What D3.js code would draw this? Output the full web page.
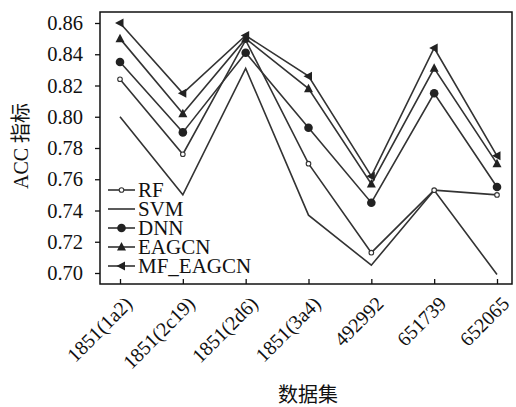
<!DOCTYPE html>
<html>
<head>
<meta charset="utf-8">
<script src="https://cdn.jsdelivr.net/npm/d3@7"></script>
<style>
  body { margin: 0; background: #fff; }
  text { font-family: "Liberation Serif", "Noto Sans CJK SC", serif; fill: #111; }
</style>
</head>
<body>
<div id="chart"></div>
<script>
// Data
const datasets = ["1851(1a2)", "1851(2c19)", "1851(2d6)", "1851(3a4)", "492992", "651739", "652065"];
const rfValues = [0.824, 0.776, 0.849, 0.770, 0.713, 0.753, 0.750];
const svmValues = [0.800, 0.750, 0.831, 0.737, 0.705, 0.753, 0.699];
const dnnValues = [0.835, 0.790, 0.841, 0.793, 0.745, 0.815, 0.755];
const eagcnValues = [0.850, 0.802, 0.850, 0.818, 0.757, 0.831, 0.770];
const mfEagcnValues = [0.860, 0.815, 0.852, 0.826, 0.762, 0.844, 0.775];
const yTicks = [0.70, 0.72, 0.74, 0.76, 0.78, 0.80, 0.82, 0.84, 0.86];

const series = [
    { name: "RF", values: rfValues, marker: "open" },
    { name: "SVM", values: svmValues, marker: "none" },
    { name: "DNN", values: dnnValues, marker: "circle" },
    { name: "EAGCN", values: eagcnValues, marker: "up" },
    { name: "MF_EAGCN", values: mfEagcnValues, marker: "left" }
];

const width = 516, height = 407;
const frame = { left: 100, top: 12, right: 512, bottom: 284 };
const lineColor = "#333";

const svg = d3.select("#chart").append("svg")
    .attr("width", width)
    .attr("height", height);

// Scales
const xScale = d3.scalePoint()
    .domain(datasets)
    .range([120, 497]);

const yScale = d3.scaleLinear()
    .domain([0.70, 0.86])
    .range([273, 23]);

// Plot frame
svg.append("rect")
    .attr("x", frame.left)
    .attr("y", frame.top)
    .attr("width", frame.right - frame.left)
    .attr("height", frame.bottom - frame.top)
    .attr("fill", "none")
    .attr("stroke", "#111")
    .attr("stroke-width", 1.5);

// Y axis (ticks point outward)
const yAxis = svg.append("g")
    .attr("transform", `translate(${frame.left},0)`)
    .call(d3.axisLeft(yScale).tickValues(yTicks).tickFormat(d3.format(".2f")).tickSize(5).tickPadding(12));
yAxis.select(".domain").remove();
yAxis.selectAll("line").attr("stroke", "#111").attr("stroke-width", 1.3);
yAxis.selectAll("text")
    .attr("font-family", "Liberation Serif")
    .attr("font-size", 20.5)
    .attr("fill", "#111");

// X axis (ticks point inward)
const xAxis = svg.append("g")
    .attr("transform", `translate(0,${frame.bottom})`)
    .call(d3.axisBottom(xScale).tickSize(-5).tickPadding(0));
xAxis.select(".domain").remove();
xAxis.selectAll("line").attr("stroke", "#111").attr("stroke-width", 1.3);
xAxis.selectAll("text")
    .attr("font-family", "Liberation Serif")
    .attr("font-size", 20)
    .attr("fill", "#111")
    .attr("text-anchor", "end")
    .attr("dy", 0)
    .attr("y", 0)
    .attr("transform", "translate(13,21) rotate(-45)");

// Lines
const line = d3.line()
    .x((d, i) => xScale(datasets[i]))
    .y(d => yScale(d));

svg.selectAll(".series-line")
    .data(series)
    .enter().append("path")
    .attr("class", "series-line")
    .attr("d", d => line(d.values))
    .attr("fill", "none")
    .attr("stroke", lineColor)
    .attr("stroke-width", 1.6);

// Marker drawing helper
function drawMarker(g, type, x, y) {
    if (type === "open") {
        g.append("circle").attr("cx", x).attr("cy", y).attr("r", 2.3)
            .attr("fill", "#fff").attr("stroke", lineColor).attr("stroke-width", 1.1);
    } else if (type === "circle") {
        g.append("circle").attr("cx", x).attr("cy", y).attr("r", 4.3)
            .attr("fill", "#222");
    } else if (type === "up") {
        g.append("path")
            .attr("d", `M${x},${y - 5} L${x + 4.5},${y + 3.5} L${x - 4.5},${y + 3.5} Z`)
            .attr("fill", "#222");
    } else if (type === "left") {
        g.append("path")
            .attr("d", `M${x - 5},${y} L${x + 3.5},${y - 4.5} L${x + 3.5},${y + 4.5} Z`)
            .attr("fill", "#222");
    }
}

const markers = svg.append("g");
series.forEach(s => {
    s.values.forEach((v, i) => drawMarker(markers, s.marker, xScale(datasets[i]), yScale(v)));
});

// Legend
const legend = svg.append("g").attr("transform", "translate(108,190)");
series.forEach((s, i) => {
    const y = i * 19;
    legend.append("line")
        .attr("x1", 0).attr("x2", 27)
        .attr("y1", y).attr("y2", y)
        .attr("stroke", lineColor)
        .attr("stroke-width", 1.6);
    drawMarker(legend, s.marker, 13.5, y);
    legend.append("text")
        .attr("x", 30)
        .attr("y", y + 7)
        .attr("font-size", 21)
        .text(s.name);
});

// Axis titles
svg.append("text")
    .attr("transform", "translate(28,146) rotate(-90)")
    .attr("text-anchor", "middle")
    .attr("font-size", 20)
    .text("ACC 指标");

svg.append("text")
    .attr("x", 308)
    .attr("y", 402)
    .attr("text-anchor", "middle")
    .attr("font-size", 20)
    .text("数据集");
</script>
</body>
</html>
